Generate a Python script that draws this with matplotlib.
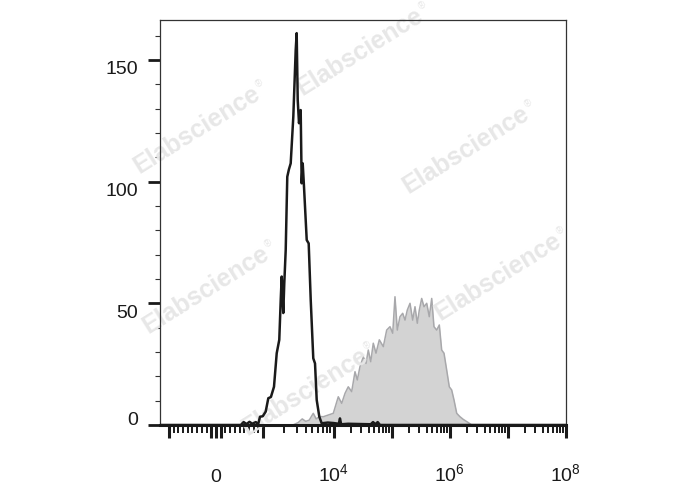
import numpy as np
import matplotlib
matplotlib.use("Agg")
import matplotlib.pyplot as plt
from matplotlib.transforms import ScaledTranslation

plt.rcParams['font.family'] = ['Liberation Sans', 'DejaVu Sans']
plt.rcParams['mathtext.fontset'] = 'custom'
plt.rcParams['mathtext.rm'] = 'Liberation Sans'
plt.rcParams['mathtext.it'] = 'Liberation Sans'

# x values are in display units of the biexponential axis (10^k sits at k above 10^4)
ctrl_u = [1.0, 2.40, 2.45, 2.50, 2.55, 2.60, 2.66, 2.70, 2.732, 2.78, 2.83, 2.875, 2.92, 2.973,
          3.020, 3.064, 3.090, 3.106, 3.133, 3.150, 3.175, 3.202, 3.230, 3.261, 3.306, 3.347,
          3.364, 3.382, 3.404, 3.433, 3.450, 3.468, 3.490, 3.537, 3.571, 3.606, 3.650, 3.680,
          3.709, 3.754, 3.795, 3.90, 4.00, 4.09, 4.11, 4.13, 4.25, 4.64, 4.68, 4.72, 4.76, 4.80, 8.0]
ctrl_count = [0, 0, 1.2, 0.4, 1.3, 0.5, 1.2, 0.3, 3.4, 3.6, 5.5, 11, 11.5, 15.7,
              29.5, 35, 52, 61, 46, 58, 71.9, 102, 105, 107.5, 126.7, 154,
              161, 133.5, 124, 129.4, 99.3, 107.5, 98, 76, 74.6, 51.4, 27.4, 25.3,
              10.3, 3.4, 0.7, 1, 0.8, 0.5, 2.7, 0.3, 0.5, 0.3, 1.2, 0.3, 1.2, 0, 0]

stain_u = [3.30, 3.39, 3.46, 3.52, 3.58, 3.65, 3.70, 3.76, 3.823, 3.909, 3.995, 4.081, 4.140,
           4.197, 4.253, 4.312, 4.369, 4.409, 4.455, 4.512, 4.559, 4.598, 4.640, 4.684, 4.731,
           4.788, 4.857, 4.915, 4.972, 5.019, 5.058, 5.098, 5.144, 5.191, 5.231, 5.270, 5.317,
           5.363, 5.403, 5.443, 5.477, 5.518, 5.558, 5.605, 5.649, 5.691, 5.730, 5.777, 5.822,
           5.863, 5.903, 5.949, 5.994, 6.035, 6.075, 6.122, 6.178, 6.235, 6.321, 6.380]
stain_count = [0, 1, 2.5, 1.5, 2, 4.8, 2.5, 3.5, 3.4, 4.1, 4.8, 11.6, 8.9,
               13, 15.7, 13.7, 21.9, 18.5, 24, 28, 25.3, 30.8, 26, 33.6, 29.5,
               35, 32.2, 39, 40.4, 37.7, 52.7, 39, 44.5, 45.9, 43.1, 47.2, 50,
               43.1, 48.6, 41.8, 47.2, 52, 48.6, 50, 44.5, 52, 40.4, 39, 41.1,
               30.8, 29.5, 22.6, 15.7, 14.4, 10.3, 4.8, 3.4, 2.3, 1, 0]

y_major = [0, 50, 100, 150]
y_minor = [10, 20, 30, 40, 60, 70, 80, 90, 110, 120, 130, 140, 160]
x_labelled = {0: "0", 1e4: "$10^4$", 1e6: "$10^6$", 1e8: "$10^8$"}

watermarks = [(197, 130), (360, 52), (466, 150), (206, 290), (498, 277), (305, 392)]


def to_u(v):
    # linear around zero, stretched log up to 1e4, plain log above
    if abs(v) <= 1e3:
        return 1.974 + 0.8125 * v / 1e3
    if v > 0 and v < 1e4:
        return 2.7865 + 1.2135 * np.log10(v / 1e3)
    if v > 0:
        return np.log10(v)
    return 1.1615 - 1.2135 * np.log10(-v / 1e3)


x_major_vals = [-1e3, -1e2, 0, 1e2, 1e3] + [10.0 ** k for k in range(4, 9)]
x_minor_vals = [s * m * 1e2 for s in (-1, 1) for m in range(2, 10)]
x_minor_vals += [m * 10.0 ** k for k in range(3, 8) for m in range(2, 10)]

fig = plt.figure(figsize=(6.88, 4.90), dpi=100)
ax = fig.add_axes([159.5 / 688, 65 / 490, 406.2 / 688, 405 / 490])

ax.fill_between(stain_u, 0, stain_count, color="#d3d3d3", lw=0, zorder=1)
ax.plot(stain_u, stain_count, color="#a8a8ab", lw=1.1, zorder=1.5)
ax.plot(ctrl_u, ctrl_count, color="#1a1a1a", lw=1.8, zorder=3)

ax.set_xlim(1.0, 8.0)
ax.set_ylim(0, 166.4)

ax.set_xticks([to_u(v) for v in x_major_vals])
ax.set_xticklabels([x_labelled.get(v, "") for v in x_major_vals], fontsize=14, color="#1a1a1a")
ax.set_xticks([to_u(v) for v in x_minor_vals if to_u(v) > 1.0], minor=True)
ax.tick_params(axis="x", which="major", direction="out", length=9.4, width=2.2, pad=31.3, color="#1a1a1a")
ax.tick_params(axis="x", which="minor", direction="out", length=5.8, width=1.4, color="#1a1a1a")
for lab in ax.get_xticklabels():
    lab.set_va("baseline")

ax.set_yticks(y_major)
ax.set_yticklabels([str(v) for v in y_major], fontsize=14, color="#1a1a1a")
ax.set_yticks(y_minor, minor=True)
ax.tick_params(axis="y", which="major", direction="out", length=8.6, width=2.0, pad=6.9, color="#1a1a1a")
ax.tick_params(axis="y", which="minor", direction="out", length=3.6, width=0.8, color="#333333")
for lab, v in zip(ax.get_yticklabels(), y_major):
    lab.set_va("baseline")
    if v != 0:
        lab.set_transform(lab.get_transform() + ScaledTranslation(0, -0.145, fig.dpi_scale_trans))

ax.spines["bottom"].set_linewidth(2.2)
ax.spines["bottom"].set_color("#1a1a1a")
for side in ["left", "top", "right"]:
    ax.spines[side].set_linewidth(0.9)
    ax.spines[side].set_color("#333333")

# watermark
ang = 32
ca, sa = np.cos(np.radians(ang)), np.sin(np.radians(ang))
for cx, cy in watermarks:
    Y = 490 - cy
    ax.text(cx / 688, Y / 490, "Elabscience", transform=fig.transFigure, rotation=ang,
            rotation_mode="anchor", ha="center", va="center", fontsize=18, fontweight="bold",
            color="#e7e7e7", zorder=2, clip_on=False)
    rx = cx + 77 * ca - 6 * sa
    ry = Y + 77 * sa + 6 * ca
    ax.text(rx / 688, ry / 490, "\u00ae", transform=fig.transFigure, rotation=ang,
            rotation_mode="anchor", ha="center", va="center", fontsize=7,
            color="#e7e7e7", zorder=2, clip_on=False)

fig.savefig("out.png", dpi=100)
